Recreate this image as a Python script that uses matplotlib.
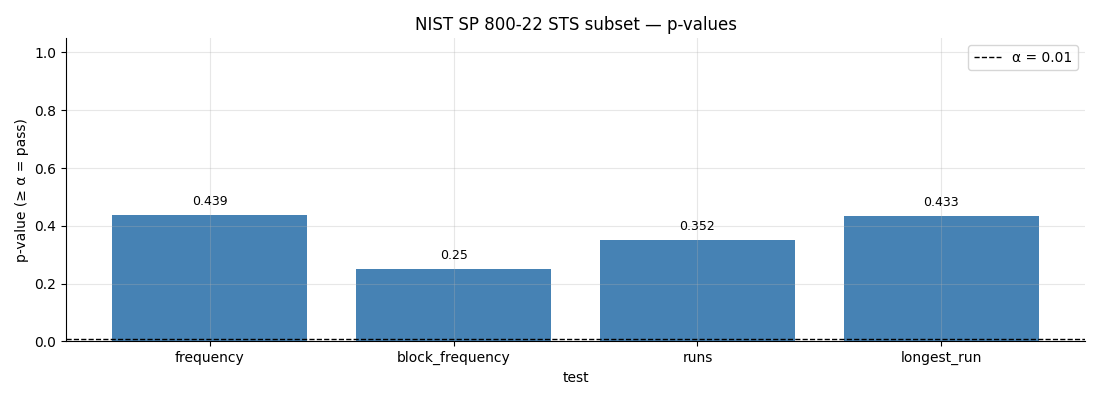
import matplotlib
matplotlib.use("Agg")
import matplotlib.pyplot as plt

tests = ["frequency", "block_frequency", "runs", "longest_run"]
pvalues = [0.439, 0.25, 0.352, 0.433]
labels = ["0.439", "0.25", "0.352", "0.433"]
alpha = 0.01

fig, ax = plt.subplots(figsize=(11, 4), dpi=100)
fig.subplots_adjust(left=0.06, right=0.9865, top=0.905, bottom=0.1465)
bars = ax.bar(tests, pvalues, color="steelblue")
ax.bar_label(bars, labels=labels, padding=5, fontsize=9)
ax.axhline(alpha, color="black", linestyle="--", linewidth=1, label="α = 0.01")
ax.set_ylim(0, 1.05)
ax.set_title("NIST SP 800-22 STS subset — p-values")
ax.set_xlabel("test")
ax.set_ylabel("p-value (≥ α = pass)")
ax.grid(True, alpha=0.3)
ax.spines["top"].set_visible(False)
ax.spines["right"].set_visible(False)
ax.legend(loc="upper right")
fig.savefig("out.png")
